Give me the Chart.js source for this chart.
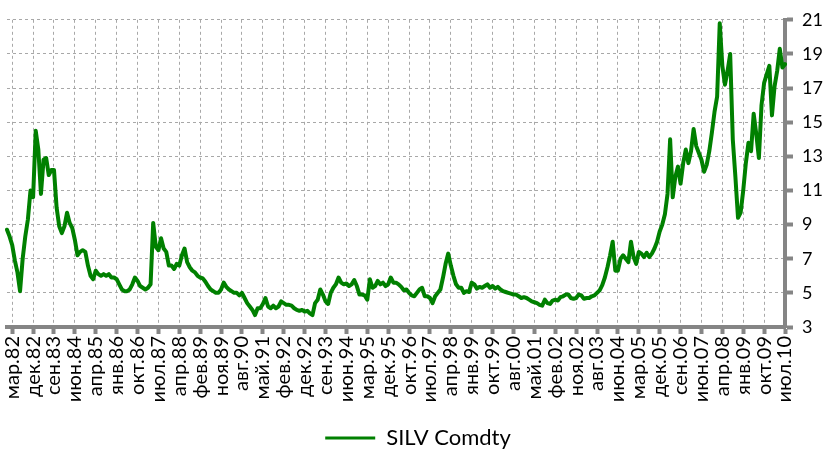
<!DOCTYPE html>
<html lang="ru">
<head>
<meta charset="utf-8">
<title>SILV Comdty</title>
<script src="https://cdn.jsdelivr.net/npm/chart.js@4.4.1/dist/chart.umd.min.js"></script>
<style>
  html, body { margin: 0; padding: 0; background: #fff; }
  #contenedor { width: 829px; height: 459px; }
</style>
</head>
<body>
<div id="contenedor"><canvas id="graficaPlata"></canvas></div>
<script>
// etiquetas del eje X (una cada 8 puntos)
const etiquetasEje = [
  'мар.82', 'дек.82', 'сен.83', 'июн.84', 'апр.85', 'янв.86', 'окт.86', 'июл.87',
  'апр.88', 'фев.89', 'ноя.89', 'авг.90', 'май.91', 'фев.92', 'дек.92', 'сен.93',
  'июн.94', 'мар.95', 'дек.95', 'окт.96', 'июл.97', 'апр.98', 'янв.99', 'окт.99',
  'авг.00', 'май.01', 'фев.02', 'ноя.02', 'авг.03', 'июн.04', 'мар.05', 'дек.05',
  'сен.06', 'июн.07', 'апр.08', 'янв.09', 'окт.09', 'июл.10'
];
const puntosPorMarca = 8;
const puntosIniciales = 2;

// precio de la plata (USD/oz)
const precioPlata = [
  8.7, 8.3,
  7.8, 6.9, 6.2, 5.1, 7.0, 8.3, 9.3, 11.0,
  10.6, 14.5, 13.4, 10.8, 12.8, 12.9, 11.9, 12.2,
  12.2, 10.0, 8.9, 8.5, 8.9, 9.7, 9.1, 8.8,
  8.1, 7.2, 7.4, 7.5, 7.4, 6.6, 6.0, 5.8,
  6.3, 6.1, 6.0, 6.1, 6.0, 6.1, 5.9, 5.9,
  5.8, 5.5, 5.2, 5.1, 5.1, 5.2, 5.5, 5.9,
  5.7, 5.4, 5.3, 5.2, 5.3, 5.5, 9.1, 7.7,
  7.5, 8.2, 7.6, 7.4, 6.6, 6.6, 6.4, 6.7,
  6.6, 7.2, 7.6, 6.8, 6.5, 6.3, 6.2, 6.0,
  5.9, 5.85, 5.65, 5.4, 5.2, 5.1, 5.0, 5.0,
  5.2, 5.6, 5.35, 5.2, 5.1, 5.0, 5.0, 4.85,
  5.0, 4.7, 4.4, 4.2, 4.0, 3.7, 4.1, 4.1,
  4.35, 4.7, 4.2, 4.1, 4.25, 4.1, 4.2, 4.5,
  4.4, 4.3, 4.3, 4.25, 4.1, 4.0, 3.95, 4.0,
  3.9, 3.95, 3.8, 3.7, 4.4, 4.6, 5.2, 4.9,
  4.5, 4.35, 5.0, 5.3, 5.5, 5.9, 5.6, 5.5,
  5.55, 5.4, 5.5, 5.75, 5.4, 4.9, 4.9, 4.85,
  4.6, 5.8, 5.3, 5.4, 5.7, 5.5, 5.6, 5.4,
  5.5, 5.9, 5.6, 5.6, 5.5, 5.35, 5.15, 5.2,
  5.0, 4.85, 4.8, 5.0, 5.2, 5.3, 4.8, 4.8,
  4.7, 4.4, 4.8, 5.0, 5.2, 5.9, 6.7, 7.3,
  6.6, 6.0, 5.5, 5.3, 5.3, 5.0, 5.1, 5.05,
  5.6, 5.5, 5.25, 5.35, 5.3, 5.4, 5.5, 5.3,
  5.4, 5.25, 5.35, 5.2, 5.1, 5.05, 5.0, 4.95,
  4.9, 4.9, 4.8, 4.7, 4.75, 4.7, 4.6, 4.5,
  4.45, 4.4, 4.3, 4.25, 4.6, 4.4, 4.35, 4.55,
  4.6, 4.55, 4.75, 4.8, 4.9, 4.9, 4.7, 4.65,
  4.7, 4.9, 4.85, 4.65, 4.7, 4.7, 4.8, 4.85,
  5.0, 5.15, 5.45, 5.9, 6.5, 7.2, 8.0, 6.3,
  6.3, 7.0, 7.2, 7.0, 6.8, 8.0, 7.1, 6.7,
  7.4, 7.3, 7.1, 7.35, 7.1, 7.3, 7.6, 8.0,
  8.6, 9.0, 9.6, 10.8, 14.0, 10.6, 11.8, 12.4,
  11.4, 12.6, 13.4, 12.6, 13.3, 14.6, 13.6, 13.2,
  12.8, 12.1, 12.5, 13.3, 14.4, 15.6, 16.5, 20.8,
  18.3, 17.2, 18.0, 19.0, 14.0, 11.8, 9.4, 9.7,
  11.0, 12.6, 13.8, 13.3, 15.5, 14.3, 12.9, 16.0,
  17.3, 17.8, 18.3, 15.4, 17.1, 18.0, 19.3, 18.2,
  18.4
];

// una categoria por punto, solo algunas llevan texto
const categorias = precioPlata.map((v, i) => {
  const k = i - puntosIniciales;
  return (k >= 0 && k % puntosPorMarca === 0) ? etiquetasEje[k / puntosPorMarca] : '';
});

const grisEje = '#858585';
const grisRejilla = '#a8a8a8';
const verde = '#008000';

new Chart(document.getElementById('graficaPlata'), {
  type: 'line',
  data: {
    labels: categorias,
    datasets: [{
      label: 'SILV Comdty',
      data: precioPlata,
      borderColor: verde,
      backgroundColor: verde,
      borderWidth: 4,
      pointRadius: 0,
      tension: 0,
      borderJoinStyle: 'round',
      borderCapStyle: 'round',
      fill: false
    }]
  },
  options: {
    responsive: true,
    maintainAspectRatio: false,
    animation: false,
    devicePixelRatio: 1,
    layout: { padding: { left: 7, right: 0, top: 14, bottom: 0 } },
    scales: {
      x: {
        type: 'category',
        offset: false,
        grid: { color: grisRejilla, lineWidth: 1, tickLength: 7, tickWidth: 4, tickColor: grisEje },
        border: { display: true, color: grisEje, width: 4, dash: [3, 3] },
        ticks: {
          autoSkip: false, maxRotation: 90, minRotation: 90, padding: 2,
          color: '#000', font: { family: 'Lato', size: 20 }
        },
        afterBuildTicks: (scale) => {
          scale.ticks = scale.ticks.filter(t => categorias[t.value] !== '');
        },
        afterFit: (scale) => { scale.height = 96; }
      },
      y: {
        position: 'right',
        min: 3,
        max: 21,
        grid: { color: grisRejilla, lineWidth: 1, tickLength: 8, tickWidth: 4, tickColor: grisEje },
        border: { display: true, color: grisEje, width: 4, dash: [3, 3] },
        ticks: { stepSize: 2, padding: 9, color: '#000', font: { family: 'Lato', size: 18 } },
        afterFit: (scale) => { scale.width = 44; }
      }
    },
    plugins: {
      tooltip: { enabled: false },
      legend: {
        position: 'bottom',
        labels: {
          boxWidth: 50,
          boxHeight: 3,
          padding: 4,
          color: '#000',
          font: { family: 'Lato', size: 22 },
          generateLabels: (chart) => {
            const items = Chart.defaults.plugins.legend.labels.generateLabels(chart);
            items.forEach(it => { it.lineWidth = 0; it.fillStyle = verde; });
            return items;
          }
        }
      }
    }
  }
});
</script>
</body>
</html>
